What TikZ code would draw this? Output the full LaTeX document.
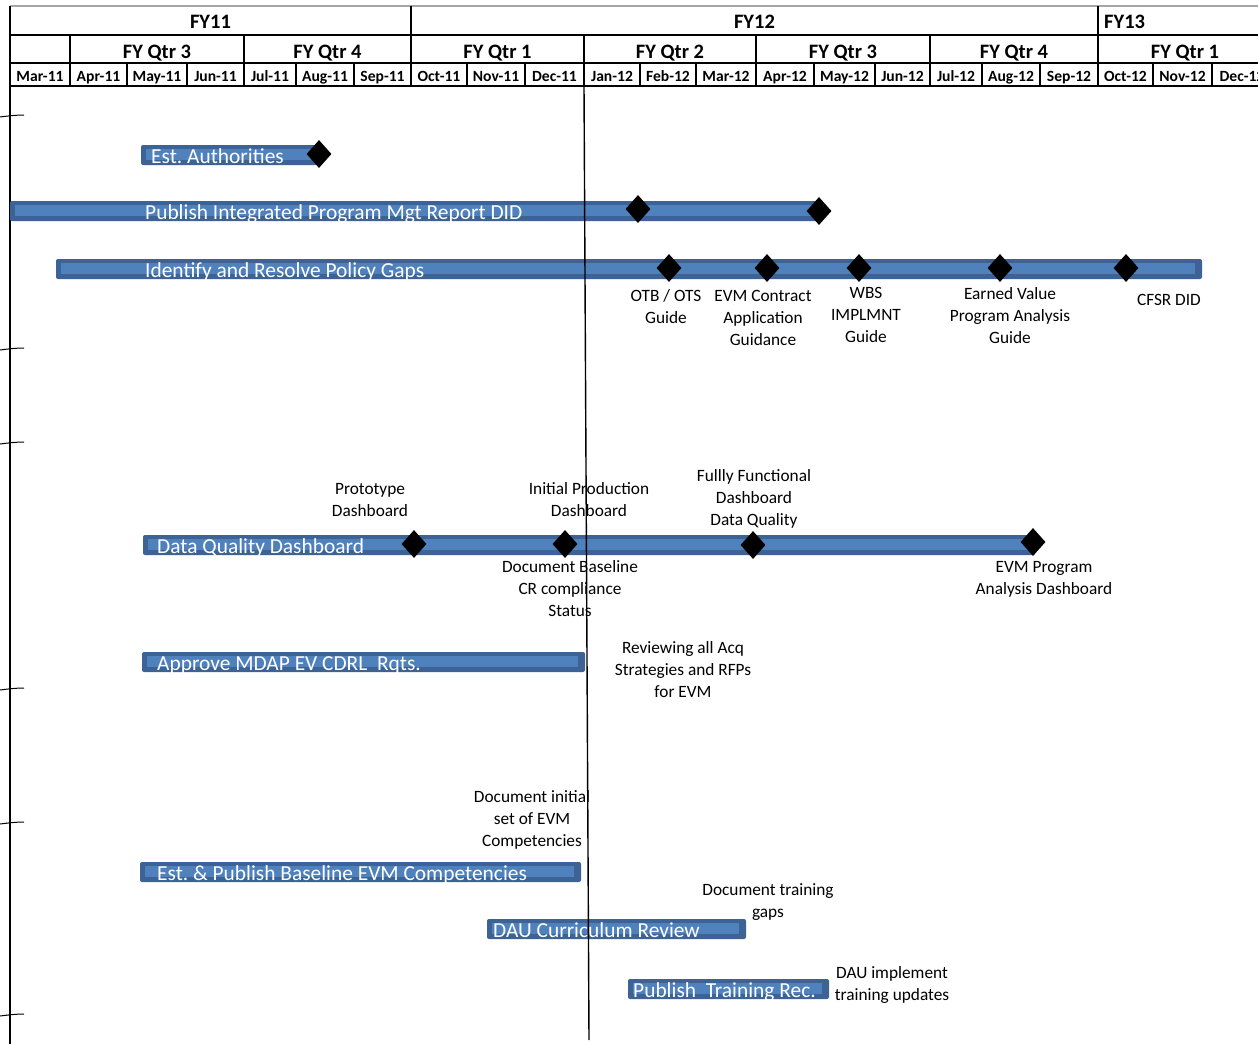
\documentclass[tikz,border=0pt]{standalone}
\usepackage{fontspec}
\setmainfont{Carlito}
\usetikzlibrary{shapes.geometric}
\frenchspacing

\definecolor{bardark}{RGB}{60,98,150}
\definecolor{barlight}{RGB}{79,129,189}

% bar: name, left, right, centre y, text x, text
\newcommand{\ganttbar}[6]{%
  \fill[bardark,rounded corners=2pt] (#2,#4-10) rectangle (#3,#4+10);
  \fill[barlight] (#2+5,#4-6) rectangle (#3-7,#4+5);
  \node[bartext] (#1) at (#5,#4+8) {#6};
}

\begin{document}
\begin{tikzpicture}[x=1pt,y=-1pt,
  bartext/.style={anchor=base west,inner sep=0pt,text=white,font=\fontsize{21.4}{22}\selectfont},
  note/.style={anchor=base,inner sep=0pt,align=center,font=\fontsize{17.3}{22}\selectfont},
  milestone/.style={diamond,fill=black,inner sep=0pt,minimum width=25pt,minimum height=28pt},
  fyhead/.style={anchor=base,inner sep=0pt,font=\bfseries\fontsize{20.5}{22}\selectfont},
  monhead/.style={anchor=base,inner sep=0pt,font=\bfseries\fontsize{15.6}{17}\selectfont},
  grid/.style={line width=1.2pt}]
\clip (0,0) rectangle (1258,1044);
\fill[white] (0,0) rectangle (1258,1044);

%Header rows
\draw[gray!70,line width=1.2pt] (10,6) -- (1258,6);
\draw[grid] (10,35) -- (1258,35) (10,63) -- (1258,63) (10,86) -- (1258,86);
\foreach \xa/\xb/\t [count=\i] in {10/411/FY11, 411/1098/FY12}
  \node[fyhead] (fy\i) at ({(\xa+\xb)/2},28) {\t};
\node[fyhead,anchor=base west] (fy3) at (1104,28) {FY13};
\foreach \x in {411,1098} \draw[grid] (\x,6) -- (\x,35);
\foreach \xa/\xb/\t [count=\i] in {70/244/FY Qtr 3, 244/411/FY Qtr 4, 411/584/FY Qtr 1, 584/756/FY Qtr 2, 756/930/FY Qtr 3, 930/1098/FY Qtr 4, 1098/1272/FY Qtr 1}
  \node[fyhead] (qtr\i) at ({(\xa+\xb)/2},58) {\t};
\foreach \x in {70,244,411,584,756,930,1098} \draw[grid] (\x,35) -- (\x,63);
\foreach \xa/\xb/\t [count=\i] in {10/70/Mar-11, 70/127/Apr-11, 127/187/May-11, 187/244/Jun-11, 244/296/Jul-11, 296/354/Aug-11, 354/411/Sep-11, 411/467/Oct-11, 467/525/Nov-11, 525/584/Dec-11, 584/640/Jan-12, 640/696/Feb-12, 696/756/Mar-12, 756/814/Apr-12, 814/875/May-12, 875/930/Jun-12, 930/982/Jul-12, 982/1040/Aug-12, 1040/1098/Sep-12, 1098/1153/Oct-12, 1153/1212/Nov-12, 1212/1272/Dec-12}
{
  \node[monhead] (mon\i) at ({(\xa+\xb)/2},81) {\t};
  \draw[grid] (\xb,63) -- (\xb,86);
}

%Left axis and ticks
\draw[line width=1.6pt] (10,6) -- (10,1044);
\foreach \y in {116,349,443,689,823,1015}
  \draw[line width=1pt] (0,\y+1) .. controls (8,\y) and (16,\y-1) .. (24,\y-1);

%Bars
\ganttbar{estauth}{141}{318}{155}{151}{Est. Authorities}
\ganttbar{ipmr}{10}{820}{211}{145}{Publish Integrated Program Mgt Report DID}
\ganttbar{policy}{56}{1202}{269}{145}{Identify and Resolve Policy Gaps}
\ganttbar{dqd}{143}{1035}{545}{157}{Data Quality Dashboard}
\ganttbar{mdap}{142}{585}{662}{157}{Approve MDAP EV CDRL\ \ Rqts.}
\ganttbar{comp}{140}{581}{872}{157}{Est. \& Publish Baseline EVM Competencies}
\ganttbar{dau}{487}{746}{929}{493}{DAU Curriculum Review}
\ganttbar{train}{628}{829}{989}{633}{Publish\ \ Training Rec.}

%Status line
\coordinate (nowtop) at (584,86);
\coordinate (nowbot) at (589,1040);
\draw[line width=1.4pt] (nowtop) -- (nowbot);

%Milestones
\node[milestone] (ms1) at (319,154) {};
\node[milestone] (ms2) at (638,209) {};
\node[milestone] (ms3) at (819,211) {};
\foreach \x [count=\i] in {669,767,859,1000,1126}
  \node[milestone] (pg\i) at (\x,268) {};
\foreach \x/\y [count=\i] in {414/544,565/544,753/545,1033/542}
  \node[milestone] (dq\i) at (\x,\y) {};

%Notes (placed at the baseline of their last line)
\node[note] (otb) at (666,323) {OTB / OTS\\Guide};
\node[note] (evmc) at (763,345) {EVM Contract\\Application\\Guidance};
\node[note] (wbs) at (866,342) {WBS\\IMPLMNT\\Guide};
\node[note] (evpa) at (1010,343) {Earned Value\\Program Analysis\\Guide};
\node[note] (cfsr) at (1169,305) {CFSR DID};
\node[note] (proto) at (370,516) {Prototype\\Dashboard};
\node[note] (initp) at (589,516) {Initial Production\\Dashboard};
\node[note] (fullf) at (754,525) {Fullly Functional\\Dashboard\\Data Quality};
\node[note] (docbl) at (570,616) {Document Baseline\\CR compliance\\Status};
\node[note] (evmpa) at (1044,594) {EVM Program\\Analysis Dashboard};
\node[note] (acq) at (683,697) {Reviewing all Acq\\Strategies and RFPs\\for EVM};
\node[note] (docin) at (532,846) {Document initial\\set of EVM\\Competencies};
\node[note] (gaps) at (768,917) {Document training\\gaps};
\node[note] (daui) at (892,1000) {DAU implement\\training updates};
\end{tikzpicture}
\end{document}
